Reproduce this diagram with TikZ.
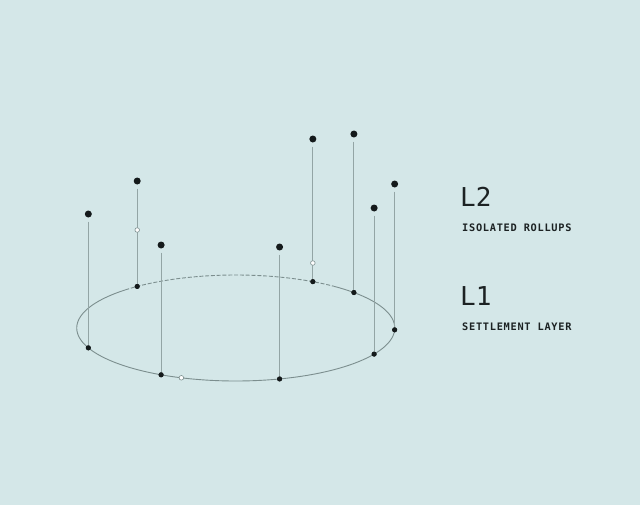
\documentclass[tikz,border=0pt]{standalone}
\usepackage{fontspec}
\newfontfamily\bigmono{DejaVu Sans Mono}
\newfontfamily\labmono[LetterSpace=7]{DejaVu Sans Mono}
\definecolor{bgc}{HTML}{D4E7E8}
\definecolor{dotc}{HTML}{141A1B}
\definecolor{polec}{HTML}{93A5A5}
\definecolor{ringc}{HTML}{7C8E8E}
\definecolor{txtc}{HTML}{1C2223}
\tikzset{
  topdot/.style={circle,fill=dotc,inner sep=0pt,minimum size=7pt,outer sep=4pt},
  basedot/.style={circle,fill=dotc,inner sep=0pt,minimum size=5pt,outer sep=0pt},
  opendot/.style={circle,fill=white,draw=ringc,line width=0.6pt,inner sep=0pt,minimum size=4.6pt},
  pole/.style={draw=polec,line width=0.9pt},
  ring/.style={draw=ringc,line width=0.9pt},
  bigtxt/.style={anchor=base west,inner sep=0pt,text=txtc,font=\bigmono\fontsize{26}{26}\selectfont},
  smalltxt/.style={anchor=base west,inner sep=0pt,text=txtc,font=\labmono\bfseries\fontsize{10.3}{10.3}\selectfont}
}
\begin{document}
\begin{tikzpicture}[x=1pt,y=-1pt]
\useasboundingbox (0,0) rectangle (640,504);
\fill[bgc] (-3,-3) rectangle (643,507);
% ring: back part dashed, rest solid
\draw[ring,dash pattern=on 4pt off 1.8pt] plot[domain=226:308,samples=80,smooth] ({235.75+159*cos(\x)},{328+53*sin(\x)});
\draw[ring] plot[domain=308:360,samples=60,smooth] ({235.75+159*cos(\x)},{328+53*sin(\x)});
\draw[ring] plot[domain=0:226,samples=160,smooth] ({235.75+159*cos(\x)},{328+53*sin(\x)});
% base dots on the ring
\node[basedot] (b1) at ({235.75+159*cos(158)},{328+53*sin(158)}) {};
\node[basedot] (b2) at ({235.75+159*cos(231.7)},{328+53*sin(231.7)}) {};
\node[basedot] (b3) at ({235.75+159*cos(118)},{328+53*sin(118)}) {};
\node[basedot] (b4) at ({235.75+159*cos(74)},{328+53*sin(74)}) {};
\node[basedot] (b5) at ({235.75+159*cos(299)},{328+53*sin(299)}) {};
\node[basedot] (b6) at ({235.75+159*cos(318)},{328+53*sin(318)}) {};
\node[basedot] (b7) at ({235.75+159*cos(29.5)},{328+53*sin(29.5)}) {};
\node[basedot] (b8) at ({235.75+159*cos(2)},{328+53*sin(2)}) {};
% top dots
\node[topdot] (t1) at (b1 |- 0,214) {};
\node[topdot] (t2) at (b2 |- 0,181) {};
\node[topdot] (t3) at (b3 |- 0,245) {};
\node[topdot] (t4) at (b4 |- 0,247) {};
\node[topdot] (t5) at (b5 |- 0,139) {};
\node[topdot] (t6) at (b6 |- 0,134) {};
\node[topdot] (t7) at (b7 |- 0,208) {};
\node[topdot] (t8) at (b8 |- 0,184) {};
% poles
\foreach \i in {1,...,8} { \draw[pole] (t\i) -- (b\i); }
\foreach \i in {1,...,8} { \node[basedot] at (b\i) {}; }
% open markers
\node[opendot] (o1) at (b2 |- 0,230) {};
\node[opendot] (o2) at (b5 |- 0,263) {};
\node[opendot] (o3) at ({235.75+159*cos(110)},{328+53*sin(110)}) {};
% labels
\node[bigtxt] (l2) at (460,206) {L2};
\node[smalltxt] (l2s) at (462,231.5) {ISOLATED ROLLUPS};
\node[bigtxt] (l1) at (460,305) {L1};
\node[smalltxt] (l1s) at (462,330.5) {SETTLEMENT LAYER};
\end{tikzpicture}
\end{document}
